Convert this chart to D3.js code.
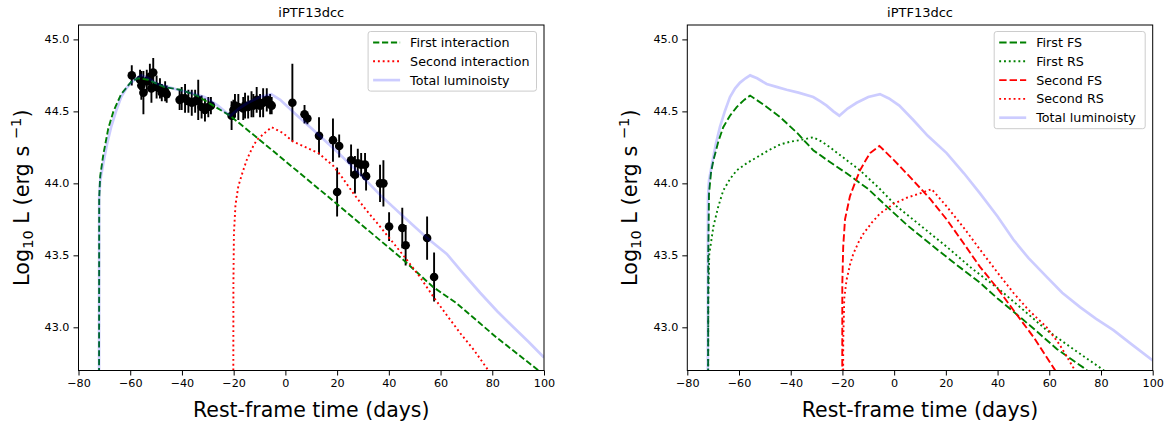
<!DOCTYPE html>
<html>
<head>
<meta charset="utf-8">
<script src="https://cdnjs.cloudflare.com/ajax/libs/d3/7.8.5/d3.min.js"></script>
<style>
    body { margin: 0; background: #fff; }
    svg text { font-family: "DejaVu Sans", sans-serif; fill: #000; }
</style>
</head>
<body>
<svg id="fig" width="1171" height="428"></svg>
<script>
// observed points (left panel)
const obsTime = [-59.4, -56.2, -55.7, -54.9, -53.6, -52.4, -51.8, -51.1, -49.8, -48.5, -47.8, -46.5, -45.9,
    -40.9, -40.1, -38.8, -37.5, -36.2, -34.9, -33.7, -32.4, -31.1, -29.8, -28.8,
    -20.8, -20.1, -19.5, -18.2, -16.3, -15.6, -14.4, -13.1, -12.4, -11.1, -9.8, -8.6, -7.2, -5.9, -5.3,
    2.7, 7.4, 8.5, 13.0, 18.4, 20.0, 20.8, 25.4, 26.9, 28.0, 29.3, 30.8, 31.2, 36.6, 37.9, 40.1, 45.2, 46.5, 54.8, 57.5];
const obsLum = [44.75, 44.72, 44.68, 44.63, 44.71, 44.74, 44.66, 44.77, 44.67, 44.66, 44.63, 44.64, 44.62,
    44.58, 44.59, 44.59, 44.57, 44.56, 44.57, 44.58, 44.53, 44.51, 44.53, 44.54,
    44.47, 44.51, 44.54, 44.53, 44.52, 44.54, 44.53, 44.55, 44.54, 44.58, 44.54, 44.56, 44.58, 44.55, 44.54,
    44.56, 44.48, 44.45, 44.33, 44.30, 43.94, 44.26, 44.16, 44.06, 44.14, 44.13, 44.13, 44.05, 44.00, 44.00, 43.70, 43.69, 43.57, 43.62, 43.35];
const obsErr = [0.07, 0.07, 0.10, 0.15, 0.08, 0.09, 0.10, 0.10, 0.08, 0.07, 0.06, 0.07, 0.06,
    0.07, 0.08, 0.10, 0.08, 0.09, 0.08, 0.14, 0.08, 0.08, 0.07, 0.06,
    0.10, 0.07, 0.08, 0.09, 0.08, 0.09, 0.08, 0.09, 0.08, 0.09, 0.08, 0.10, 0.08, 0.07, 0.06,
    0.27, 0.065, 0.04, 0.13, 0.15, 0.17, 0.08, 0.11, 0.13, 0.10, 0.08, 0.08, 0.10, 0.13, 0.16, 0.10, 0.14, 0.14, 0.15, 0.17];

// left panel models
const firstTime = [-72.1, -72.0, -71.6, -70.4, -68.5, -66.5, -63.5, -59.4, -57.0, -53, -47.0, -40.7, -34.2, -27.9, -21.4, -9.8, 19.7, 45.5, 57.1, 66.0, 81.6, 97.9, 101];
const firstLum = [41.5, 43.9, 44.05, 44.2, 44.38, 44.5, 44.62, 44.71, 44.73, 44.72, 44.67, 44.65, 44.61, 44.54, 44.47, 44.30, 43.86, 43.47, 43.28, 43.17, 42.93, 42.70, 42.65];
const secondTime = [-20.2, -20.1, -19.9, -19.3, -18.2, -16.5, -15.0, -13, -11.1, -8, -5.3, -1, 3.0, 8, 12.8, 18.6, 22, 26.3, 31, 36.6, 42, 46.9, 52, 57.3, 63, 68, 73, 78.5, 84];
const secondLum = [41.5, 43.3, 43.65, 43.85, 43.98, 44.08, 44.16, 44.24, 44.30, 44.35, 44.39, 44.35, 44.29, 44.25, 44.21, 44.12, 44.04, 43.93, 43.82, 43.70, 43.58, 43.47, 43.35, 43.21, 43.07, 42.95, 42.84, 42.70, 42.58];
const totalLeftTime = [-72.1, -72.0, -71.6, -70.6, -69, -67.4, -65.5, -63.5, -61.5, -59.6, -57.5, -55.7, -53, -49.3, -45.5, -41.6, -37, -31.3, -28.5, -26.1,
    -23.5, -21.2, -18, -14.5, -10, -5.5, -2, 4, 10.8, 20, 28, 36.6, 45, 54.8, 62.4, 68, 75.3, 82, 88.2, 94, 100];
const totalLeftLum = [41.5, 43.9, 44.02, 44.12, 44.27, 44.39, 44.5, 44.6, 44.66, 44.7, 44.73, 44.75, 44.73, 44.69, 44.67, 44.65, 44.63, 44.6, 44.57, 44.54,
    44.5, 44.47, 44.52, 44.56, 44.6, 44.62, 44.58, 44.48, 44.37, 44.22, 44.08, 43.92, 43.78, 43.62, 43.51, 43.39, 43.24, 43.11, 43.0, 42.9, 42.79];

// right panel models
const fsFirstTime = [-72.0, -71.9, -71.6, -70.8, -69.9, -68, -66.1, -63.5, -60.9, -58, -55.7, -50, -44.1, -37.5, -31.3, -25, -18.4, -10, -2.9, 5, 13.9, 23, 33.2, 40, 46.1, 54, 62.9, 73.2, 80];
const fsFirstLum = [41.5, 43.5, 43.93, 44.08, 44.16, 44.29, 44.39, 44.47, 44.53, 44.58, 44.61, 44.54, 44.46, 44.35, 44.23, 44.15, 44.07, 43.96, 43.84, 43.71, 43.58, 43.45, 43.31, 43.2, 43.11, 42.99, 42.85, 42.72, 42.62];
const rsFirstTime = [-72.0, -71.9, -71.5, -69.9, -68, -66.1, -63.5, -60.9, -57, -53.2, -48.5, -44.1, -40, -36.4, -31.3, -28, -24.8, -19, -13.2, -6, 1.0, 10, 20.3, 30, 40.9, 50, 59, 70, 79.6, 85];
const rsFirstLum = [41.5, 43.2, 43.51, 43.70, 43.84, 43.95, 44.03, 44.09, 44.14, 44.18, 44.23, 44.27, 44.29, 44.30, 44.32, 44.29, 44.25, 44.17, 44.09, 43.97, 43.84, 43.71, 43.56, 43.41, 43.26, 43.12, 42.98, 42.84, 42.72, 42.65];
const fsSecondTime = [-20.1, -20.05, -19.7, -19, -17.1, -15, -13.2, -11, -9.3, -5.7, 0, 7.4, 14, 20.3, 27, 33.2, 40, 46.1, 54, 61.6, 66];
const fsSecondLum = [41.5, 43.3, 43.56, 43.75, 43.91, 44.01, 44.09, 44.16, 44.21, 44.26, 44.16, 44.02, 43.89, 43.75, 43.58, 43.42, 43.27, 43.12, 42.93, 42.72, 42.6];
const rsSecondTime = [-19.8, -19.7, -19.3, -18.4, -17, -15.8, -13.8, -11.9, -8.5, -5.5, 0, 4.9, 10, 14.5, 20.3, 27, 33.2, 40, 46.1, 52, 59, 64, 69.3, 75];
const rsSecondLum = [41.5, 42.9, 43.2, 43.33, 43.44, 43.51, 43.59, 43.65, 43.73, 43.79, 43.86, 43.90, 43.93, 43.96, 43.84, 43.69, 43.54, 43.38, 43.24, 43.12, 43.00, 42.88, 42.72, 42.6];
const totalRightTime = [-72.1, -72.0, -71.6, -70.6, -69, -67.4, -65.5, -63.5, -61.5, -59.6, -57.5, -55.7, -53, -49.3, -45.5, -41.6, -37, -31.3, -28.5, -26.1,
    -23.5, -21.2, -18, -14.5, -10, -5.5, -2, 2, 7.4, 13, 20.3, 27, 33.2, 40, 46.1, 52, 59, 65, 71.9, 78, 84.8, 92, 100];
const totalRightLum = [41.5, 43.9, 44.02, 44.12, 44.27, 44.39, 44.5, 44.6, 44.66, 44.7, 44.73, 44.75, 44.73, 44.69, 44.67, 44.65, 44.63, 44.6, 44.57, 44.54,
    44.5, 44.47, 44.52, 44.56, 44.6, 44.62, 44.59, 44.54, 44.44, 44.33, 44.21, 44.07, 43.93, 43.77, 43.61, 43.48, 43.35, 43.24, 43.14, 43.06, 42.98, 42.88, 42.77];

const xTicks = [-80, -60, -40, -20, 0, 20, 40, 60, 80, 100];
const yTicks = [43.0, 43.5, 44.0, 44.5, 45.0];

const svg = d3.select('#fig');
const plotTop = 25, plotBottom = 370.5;
const y = d3.scaleLinear().domain([42.7, 45.1]).range([plotBottom, plotTop]);

const zip = (t, l) => t.map((v, i) => [v, l[i]]);
const dashed = '6.2,2.7', dotted = '1.9,2.9';

function drawPanel(id, left, right, lines, legendW, withData) {
    const x = d3.scaleLinear().domain([-80, 100]).range([left, right]);
    const g = svg.append('g');

    g.append('clipPath').attr('id', 'clip' + id)
        .append('rect').attr('x', left).attr('y', plotTop).attr('width', right - left).attr('height', plotBottom - plotTop);

    const plot = g.append('g').attr('clip-path', `url(#clip${id})`);
    const line = d3.line().x(d => x(d[0])).y(d => y(d[1]));

    const drawLine = s => plot.append('path')
        .attr('d', line(zip(s.t, s.l)))
        .attr('fill', 'none')
        .attr('stroke', s.color)
        .attr('stroke-opacity', s.opacity || 1)
        .attr('stroke-width', s.width)
        .attr('stroke-dasharray', s.dash || null);

    if (withData) {
        const pts = plot.append('g');
        obsTime.forEach((t, i) => {
            pts.append('line')
                .attr('x1', x(t)).attr('x2', x(t))
                .attr('y1', y(obsLum[i] - obsErr[i])).attr('y2', y(obsLum[i] + obsErr[i]))
                .attr('stroke', '#000').attr('stroke-width', 1.9);
            pts.append('circle').attr('cx', x(t)).attr('cy', y(obsLum[i])).attr('r', 4.3).attr('fill', '#000');
        });
    }
    lines.filter(s => !s.total).forEach(drawLine);
    lines.filter(s => s.total).forEach(drawLine);

    // axes
    const xAxis = g.append('g').attr('transform', `translate(0,${plotBottom})`)
        .call(d3.axisBottom(x).tickValues(xTicks).tickSize(5).tickPadding(4)
            .tickFormat(d => d < 0 ? '\u2212' + Math.abs(d) : d));
    const yAxis = g.append('g').attr('transform', `translate(${left},0)`)
        .call(d3.axisLeft(y).tickValues(yTicks).tickSize(5).tickPadding(4).tickFormat(d3.format('.1f')));
    [xAxis, yAxis].forEach(a => {
        a.select('.domain').remove();
        a.selectAll('.tick line').attr('stroke', '#000').attr('stroke-width', 1);
        a.selectAll('.tick text').attr('font-size', 11.2).attr('font-family', 'DejaVu Sans').attr('fill', '#000');
    });
    g.append('rect').attr('x', left).attr('y', plotTop).attr('width', right - left).attr('height', plotBottom - plotTop)
        .attr('fill', 'none').attr('stroke', '#000').attr('stroke-width', 1);

    // labels
    g.append('text').attr('x', (left + right) / 2).attr('y', 17).attr('text-anchor', 'middle')
        .attr('font-size', 13).text('iPTF13dcc');
    g.append('text').attr('x', (left + right) / 2).attr('y', 417).attr('text-anchor', 'middle')
        .attr('font-size', 20.5).text('Rest-frame time (days)');
    const yl = g.append('text').attr('text-anchor', 'middle').attr('font-size', 20.8)
        .attr('transform', `translate(${left - 50},${(plotTop + plotBottom) / 2}) rotate(-90)`);
    yl.append('tspan').text('Log');
    yl.append('tspan').attr('font-size', 14.6).attr('dy', 4).text('10');
    yl.append('tspan').attr('dy', -4).text(' L (erg s ');
    yl.append('tspan').attr('font-size', 14.6).attr('dy', -8).text('\u22121');
    yl.append('tspan').attr('dy', 8).text(')');

    // legend
    const lx = right - 7.5 - legendW, ly = plotTop + 6.5, step = 18.8;
    const leg = g.append('g');
    leg.append('rect').attr('x', lx).attr('y', ly).attr('width', legendW).attr('height', 22 + step * (lines.length - 1))
        .attr('rx', 2.5).attr('fill', '#fff').attr('fill-opacity', 0.8).attr('stroke', '#cccccc').attr('stroke-width', 1);
    lines.forEach((s, i) => {
        const cy = ly + 11 + i * step;
        leg.append('line').attr('x1', lx + 5).attr('x2', lx + 32).attr('y1', cy).attr('y2', cy)
            .attr('stroke', s.color).attr('stroke-opacity', s.opacity || 1).attr('stroke-width', s.width)
            .attr('stroke-dasharray', s.dash || null);
        leg.append('text').attr('x', lx + 42).attr('y', cy + 4.5).attr('font-size', 12.7).text(s.label);
    });
}

drawPanel('L', 78.5, 544, [
    {t: firstTime, l: firstLum, color: '#008000', width: 1.9, dash: dashed, label: 'First interaction'},
    {t: secondTime, l: secondLum, color: '#ff0000', width: 1.9, dash: dotted, label: 'Second interaction'},
    {t: totalLeftTime, l: totalLeftLum, color: '#0000ff', opacity: 0.2, width: 2.7, total: true, label: 'Total luminoisty'}
], 168.4, true);

drawPanel('R', 687.3, 1152.7, [
    {t: fsFirstTime, l: fsFirstLum, color: '#008000', width: 1.9, dash: '7.4,3', label: 'First FS'},
    {t: rsFirstTime, l: rsFirstLum, color: '#008000', width: 1.9, dash: dotted, label: 'First RS'},
    {t: fsSecondTime, l: fsSecondLum, color: '#ff0000', width: 1.9, dash: '7.4,3', label: 'Second FS'},
    {t: rsSecondTime, l: rsSecondLum, color: '#ff0000', width: 1.9, dash: dotted, label: 'Second RS'},
    {t: totalRightTime, l: totalRightLum, color: '#0000ff', opacity: 0.2, width: 2.7, total: true, label: 'Total luminoisty'}
], 151, false);
</script>
</body>
</html>
